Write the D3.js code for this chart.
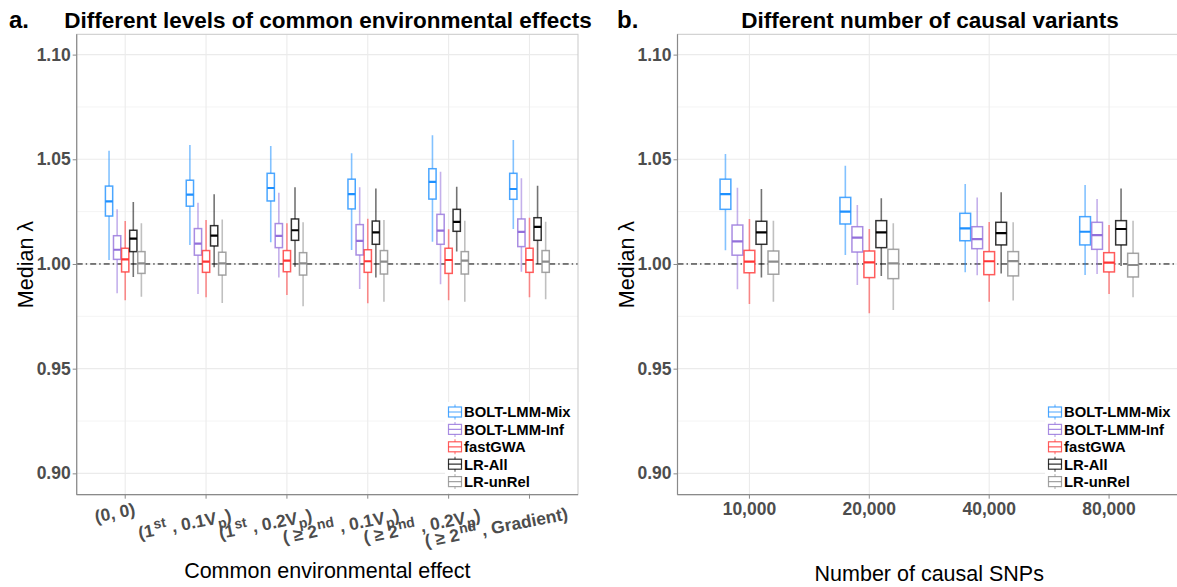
<!DOCTYPE html>
<html><head><meta charset="utf-8">
<script src="https://cdn.jsdelivr.net/npm/d3@7"></script>
<style>body{margin:0;background:#fff;} text{font-family:"Liberation Sans",Arial,sans-serif;}</style>
</head><body><svg id="c" width="1177" height="587"></svg>
<script>
// ---------- DATA ----------
const methods = ["BOLT-LMM-Mix","BOLT-LMM-Inf","fastGWA","LR-All","LR-unRel"];
const methodColors = ["#1E90FF","#9370DB","#FF3333","#000000","#8C8C8C"];
const yTicks = [0.90,0.95,1.00,1.05,1.10];
const yMinor = [0.925,0.975,1.025,1.075];

// panel a: categories + five-number summaries [lower whisker, q1, median, q3, upper whisker]
const envLabels = ["(0, 0)","(1^{st} , 0.1V_{p})","(1^{st} , 0.2V_{p})","( ≥ 2^{nd} , 0.1V_{p})","( ≥ 2^{nd} , 0.2V_{p})","( ≥ 2^{nd} , Gradient)"];
const envMix   = [[1.0019,1.0229,1.0299,1.0372,1.0541],[1.0091,1.0276,1.0331,1.0400,1.0568],[1.0104,1.0301,1.0363,1.0433,1.0564],[1.0067,1.0263,1.0334,1.0405,1.0529],[1.0106,1.0310,1.0392,1.0455,1.0615],[1.0167,1.0309,1.0358,1.0433,1.0592]];
const envInf   = [[0.9860,1.0022,1.0068,1.0135,1.0261],[0.9857,1.0042,1.0097,1.0169,1.0293],[0.9936,1.0078,1.0134,1.0193,1.0340],[0.9881,1.0043,1.0110,1.0188,1.0366],[0.9903,1.0094,1.0159,1.0237,1.0441],[0.9963,1.0083,1.0153,1.0215,1.0409]];
const envFast  = [[0.9827,0.9962,1.0022,1.0075,1.0205],[0.9841,0.9960,1.0011,1.0064,1.0210],[0.9852,0.9963,1.0016,1.0064,1.0194],[0.9812,0.9960,1.0013,1.0068,1.0216],[0.9827,0.9955,1.0019,1.0075,1.0166],[0.9841,0.9960,1.0019,1.0075,1.0221]];
const envAll   = [[0.9938,1.0059,1.0121,1.0161,1.0296],[0.9984,1.0086,1.0135,1.0183,1.0333],[0.9987,1.0113,1.0161,1.0215,1.0366],[0.9936,1.0094,1.0151,1.0205,1.0360],[1.0059,1.0156,1.0201,1.0261,1.0369],[1.0000,1.0113,1.0177,1.0221,1.0374]];
const envUnrel = [[0.9844,0.9955,1.0003,1.0059,1.0194],[0.9814,0.9947,1.0003,1.0056,1.0213],[0.9798,0.9947,1.0003,1.0054,1.0199],[0.9820,0.9952,1.0011,1.0064,1.0210],[0.9820,0.9952,1.0016,1.0059,1.0207],[0.9832,0.9960,1.0011,1.0064,1.0202]];

// panel b
const snpLabels = ["10,000","20,000","40,000","80,000"];
const snpMix   = [[1.0065,1.0261,1.0334,1.0405,1.0525],[1.0043,1.0191,1.0250,1.0318,1.0469],[0.9960,1.0111,1.0170,1.0242,1.0382],[0.9947,1.0091,1.0154,1.0226,1.0377]];
const snpInf   = [[0.9879,1.0042,1.0108,1.0186,1.0364],[0.9900,1.0057,1.0126,1.0178,1.0282],[0.9946,1.0073,1.0119,1.0178,1.0317],[0.9952,1.0070,1.0138,1.0199,1.0310]];
const snpFast  = [[0.9809,0.9958,1.0011,1.0065,1.0215],[0.9765,0.9935,1.0008,1.0062,1.0167],[0.9820,0.9949,1.0013,1.0059,1.0201],[0.9857,0.9962,1.0006,1.0054,1.0186]];
const snpAll   = [[0.9936,1.0094,1.0151,1.0204,1.0358],[0.9943,1.0078,1.0151,1.0207,1.0314],[0.9955,1.0091,1.0147,1.0199,1.0342],[0.9990,1.0091,1.0167,1.0207,1.0361]];
const snpUnrel = [[0.9819,0.9951,1.0011,1.0062,1.0207],[0.9780,0.9930,1.0003,1.0070,1.0194],[0.9825,0.9943,1.0014,1.0059,1.0199],[0.9841,0.9938,0.9995,1.0051,1.0207]];

// ---------- DRAW ----------
const svg = d3.select("#c");
const pTop = 34.3, pBottom = 494.7;
const y = d3.scaleLinear().domain([0.8898, 1.1097]).range([pBottom, pTop]);
const tickCol = "#4d4d4d";
const tickFont = 17.5;

function addRich(sel, str, baseSize){
  const re = /(\^\{[^}]*\}|_\{[^}]*\})/;
  const parts = str.split(re).filter(s=>s.length);
  let shift = 0;
  parts.forEach(p=>{
    let txt=p, target=0, small=false, dx=0;
    if(p.startsWith("^{")){txt=p.slice(2,-1);target=-7;small=true;dx=1;}
    else if(p.startsWith("_{")){txt=p.slice(2,-1);target=5;small=true;dx=0.5;}
    const ts = sel.append("tspan").text(txt).attr("dy", target-shift).attr("dx",dx);
    if(small) ts.attr("font-size", baseSize*0.8);
    shift = target;
  });
}

function panel(opt){
  const g = svg.append("g");
  const x = d3.scalePoint().domain(opt.cats).range([opt.x0, opt.x1]).padding(0.6);
  const step = x.step();
  const clipId = "clip"+opt.id;
  svg.append("clipPath").attr("id",clipId).append("rect")
    .attr("x",opt.x0).attr("y",pTop).attr("width",opt.x1-opt.x0).attr("height",pBottom-pTop);
  const pg = g.append("g").attr("clip-path",`url(#${clipId})`);
  // grid
  pg.selectAll(".mn").data(yMinor).join("line").attr("x1",opt.x0).attr("x2",opt.x1)
    .attr("y1",d=>y(d)).attr("y2",d=>y(d)).attr("stroke","#f4f4f4").attr("stroke-width",1);
  pg.selectAll(".mj").data(yTicks).join("line").attr("x1",opt.x0).attr("x2",opt.x1)
    .attr("y1",d=>y(d)).attr("y2",d=>y(d)).attr("stroke","#ebebeb").attr("stroke-width",1.1);
  pg.selectAll(".vx").data(opt.cats).join("line").attr("x1",d=>x(d)).attr("x2",d=>x(d))
    .attr("y1",pTop).attr("y2",pBottom).attr("stroke","#ebebeb").attr("stroke-width",1.1);
  // reference line
  pg.append("line").attr("x1",opt.x0).attr("x2",opt.x1).attr("y1",y(1)).attr("y2",y(1))
    .attr("stroke","#000").attr("stroke-width",1).attr("stroke-dasharray","6,3,1.5,3");
  // boxes
  const bw = 0.09*step;
  opt.series.forEach((ser, mi)=>{
    const col = methodColors[mi];
    ser.forEach((s, ci)=>{
      const cx = x(opt.cats[ci]) + (mi-2)*0.1*step;
      const bg = pg.append("g");
      bg.append("line").attr("x1",cx).attr("x2",cx).attr("y1",y(s[4])).attr("y2",y(s[3]))
        .attr("stroke",col).attr("stroke-opacity",0.55).attr("stroke-width",1.6);
      bg.append("line").attr("x1",cx).attr("x2",cx).attr("y1",y(s[1])).attr("y2",y(s[0]))
        .attr("stroke",col).attr("stroke-opacity",0.55).attr("stroke-width",1.6);
      bg.append("rect").attr("x",cx-bw/2).attr("y",y(s[3])).attr("width",bw).attr("height",y(s[1])-y(s[3]))
        .attr("fill","#fff").attr("stroke",col).attr("stroke-opacity",0.8).attr("stroke-width",1.5);
      bg.append("line").attr("x1",cx-bw/2).attr("x2",cx+bw/2).attr("y1",y(s[2])).attr("y2",y(s[2]))
        .attr("stroke",col).attr("stroke-width",2.2);
    });
  });
  // legend
  const lx = opt.legX, ly0 = 412, lh = 17.4;
  pg.append("rect").attr("x",lx-2).attr("y",ly0-10).attr("width",opt.x1-lx+2).attr("height",lh*5+4)
    .attr("fill","#fff");
  methods.forEach((m,i)=>{
    const cy = ly0 + i*lh, col = methodColors[i];
    const kx = lx+8;
    pg.append("line").attr("x1",kx).attr("x2",kx).attr("y1",cy-7.5).attr("y2",cy+7.5)
      .attr("stroke",col).attr("stroke-opacity",0.6).attr("stroke-width",1.2);
    pg.append("rect").attr("x",lx+1.5).attr("y",cy-5).attr("width",13).attr("height",10)
      .attr("fill","#fff").attr("stroke",col).attr("stroke-opacity",0.8).attr("stroke-width",1.2);
    pg.append("line").attr("x1",lx+1.5).attr("x2",lx+14.5).attr("y1",cy).attr("y2",cy)
      .attr("stroke",col).attr("stroke-opacity",0.8).attr("stroke-width",1.2);
    pg.append("text").attr("x",lx+17).attr("y",cy+5.3).text(m)
      .attr("font-size",14.8).attr("font-weight","bold").attr("fill","#000");
  });
  // border + axes
  g.append("rect").attr("x",opt.x0).attr("y",pTop).attr("width",opt.x1-opt.x0).attr("height",pBottom-pTop)
    .attr("fill","none").attr("stroke","#c9c9c9").attr("stroke-width",1);
  g.append("line").attr("x1",opt.x0).attr("x2",opt.x0).attr("y1",pTop).attr("y2",pBottom).attr("stroke","#8a8a8a").attr("stroke-width",1.2);
  g.append("line").attr("x1",opt.x0).attr("x2",opt.x1).attr("y1",pBottom).attr("y2",pBottom).attr("stroke","#8a8a8a").attr("stroke-width",1.2);
  // y axis
  const ya = d3.axisLeft(y).tickValues(yTicks).tickFormat(d3.format(".2f")).tickSize(4).tickPadding(2);
  const yg = g.append("g").attr("transform",`translate(${opt.x0},0)`).call(ya);
  yg.select(".domain").remove();
  yg.selectAll("line").attr("stroke","#8a8a8a");
  yg.selectAll("text").attr("font-size",tickFont).attr("font-weight","bold").attr("fill",tickCol)
    .attr("font-family","Liberation Sans, Arial, sans-serif");
  // x ticks
  g.selectAll(".xt"+opt.id).data(opt.cats).join("line").attr("x1",d=>x(d)).attr("x2",d=>x(d))
    .attr("y1",pBottom).attr("y2",pBottom+4).attr("stroke","#8a8a8a");
  if(opt.rich){
    opt.cats.forEach((c,i)=>{
      const lab = opt.labels[i];
      const hasSup = /\^\{/.test(lab), hasGe = lab.includes("≥");
      const t = g.append("text").attr("font-size",tickFont).attr("font-weight","bold").attr("fill",tickCol);
      addRich(t, lab, tickFont);
      const w = t.node().getComputedTextLength();
      const y0 = 517 + (hasSup?9:0) + (hasGe?1:0);
      t.attr("transform",`translate(${x(c)},${y0}) rotate(-11) translate(${-0.73*w},0)`);
    });
  } else {
    g.selectAll(".xl"+opt.id).data(opt.cats).join("text").attr("x",d=>x(d)).attr("y",514.5)
      .attr("text-anchor","middle").text((d,i)=>opt.labels[i])
      .attr("font-size",tickFont).attr("font-weight","bold").attr("fill",tickCol);
  }
  // titles
  const cxp = (opt.x0+opt.x1)/2;
  g.append("text").attr("x",cxp).attr("y",opt.xtY).attr("text-anchor","middle").text(opt.xTitle)
    .attr("font-size",21.5).attr("fill","#000");
  g.append("text").attr("transform",`translate(${opt.x0-44},${(pTop+pBottom)/2}) rotate(-90)`)
    .attr("text-anchor","middle").attr("font-size",21.5).attr("fill","#000").text("Median λ");
  g.append("text").attr("x",opt.tagX).attr("y",28).text(opt.tag).attr("font-size",24).attr("font-weight","bold");
  g.append("text").attr("x",opt.titleX).attr("y",28).attr("text-anchor","middle").text(opt.title)
    .attr("font-size",22.5).attr("font-weight","bold");
}

panel({id:"a", cats:envLabels, labels:envLabels, rich:true, x0:76.7, x1:578,
  series:[envMix,envInf,envFast,envAll,envUnrel], legX:447, xTitle:"Common environmental effect", xtY:578,
  tag:"a.", tagX:9, title:"Different levels of common environmental effects", titleX:328});
panel({id:"b", cats:snpLabels, labels:snpLabels, rich:false, x0:677.5, x1:1181,
  series:[snpMix,snpInf,snpFast,snpAll,snpUnrel], legX:1047, xTitle:"Number of causal SNPs", xtY:581,
  tag:"b.", tagX:617, title:"Different number of causal variants", titleX:930});
</script></body></html>
